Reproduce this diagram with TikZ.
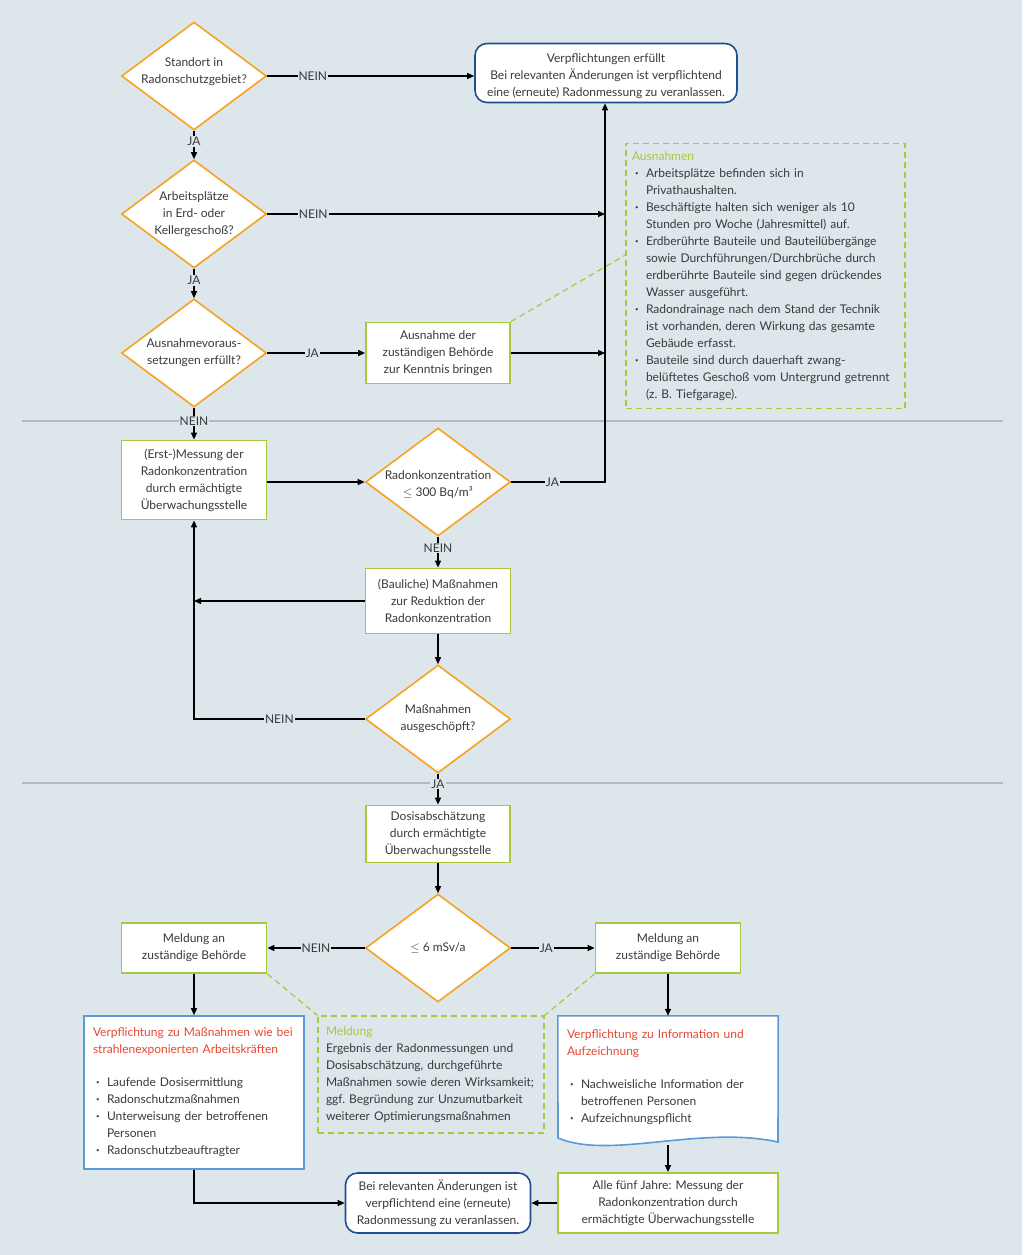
\documentclass[tikz,border=0pt]{standalone}
\usepackage{fontspec}
\setmainfont{Lato}
\usetikzlibrary{shapes.geometric,positioning,arrows.meta}

\definecolor{bg}{HTML}{DDE6EB}
\definecolor{sepgray}{HTML}{AEBBC3}
\definecolor{orng}{HTML}{F7A21E}
\definecolor{lime}{HTML}{A8C83F}
\definecolor{navy}{HTML}{1F4F8F}
\definecolor{sky}{HTML}{5B9BD5}
\definecolor{redt}{HTML}{EA4630}
\definecolor{txt}{HTML}{3A3A3A}

\newcommand{\bul}{\hspace*{3pt}\makebox[11pt][l]{\raisebox{2pt}{\fontsize{6}{6}\selectfont\textbullet}}}
\newcommand{\ind}{\hspace*{14pt}}

\tikzset{
  decision/.style={diamond, draw=orng, line width=1.6pt, fill=white, aspect=1.34,
    minimum width=145pt, minimum height=108pt, inner sep=-3pt, align=center},
  process/.style={rectangle, draw=lime, line width=1.8pt, fill=white, align=center},
  final/.style={rectangle, rounded corners=12pt, draw=navy, line width=1.6pt, fill=white, align=center},
  duty/.style={draw=sky, line width=1.6pt, fill=white},
  note/.style={draw=lime, line width=1.2pt, dash pattern=on 6pt off 4pt},
  lbl/.style={fill=bg, inner sep=1pt},
  link/.style={->, line width=1.3pt},
  sepline/.style={draw=sepgray, line width=1.8pt}
}

\begin{document}
\begin{tikzpicture}[x=1pt,y=-1pt,>={Triangle[length=7pt,width=6pt]},
    font=\fontsize{12}{17}\selectfont, text=txt]
  \useasboundingbox (0,0) rectangle (1026,1255);
  \fill[white] (0,0) rectangle (1026,1255);
  \fill[bg] (0,0) rectangle (1022,1255);
  \draw[sepline] (22,421) -- (1003,421);
  \draw[sepline] (22,783) -- (1003,783);

  % first section
  \node[decision] (q_site) at (194,76) {Standort in\\Radonschutzgebiet?\\[-6pt]};
  \node[decision] (q_floor) at (194,214) {Arbeitsplätze\\in Erd- oder\\Kellergeschoß?};
  \node[decision] (q_exc) at (194,353) {Ausnahmevoraus-\\setzungen erfüllt?};
  \node[final, minimum width=262pt, minimum height=59pt] (done) at (606,73)
    {\rule{0pt}{15pt}Verpflichtungen erfüllt\\Bei relevanten Änderungen ist verpflichtend\\eine (erneute) Radonmessung zu veranlassen.};
  \node[process, minimum width=144pt, minimum height=61pt] (notify) at (438,353)
    {Ausnahme der\\zuständigen Behörde\\zur Kenntnis bringen};
  \node[note, text width=267pt, inner xsep=6pt, inner ysep=8pt, align=left] (exc_note) at (765.5,276)
    {{\color{lime}Ausnahmen}\\
     \bul Arbeitsplätze befinden sich in\\
     \ind Privathaushalten.\\
     \bul Beschäftigte halten sich weniger als 10\\
     \ind Stunden pro Woche (Jahresmittel) auf.\\
     \bul Erdberührte Bauteile und Bauteilübergänge\\
     \ind sowie Durchführungen/Durchbrüche durch\\
     \ind erdberührte Bauteile sind gegen drückendes\\
     \ind Wasser ausgeführt.\\
     \bul Radondrainage nach dem Stand der Technik\\
     \ind ist vorhanden, deren Wirkung das gesamte\\
     \ind Gebäude erfasst.\\
     \bul Bauteile sind durch dauerhaft zwang-\\
     \ind belüftetes Geschoß vom Untergrund getrennt\\
     \ind (z.\ B.\ Tiefgarage).};
  \coordinate (j_floor) at (605,214);
  \coordinate (j_exc) at (605,353);
  \coordinate (j_conc) at (605,482);

  % second section
  \node[process, minimum width=145pt, minimum height=79pt] (measure) at (194,480)
    {(Erst-)Messung der\\Radonkonzentration\\durch ermächtigte\\Überwachungsstelle};
  \node[decision] (q_conc) at (438,482) {\\[-2pt]Radonkonzentration\\$\leq$ 300 Bq/m³};
  \node[process, minimum width=145pt, minimum height=65pt] (reduce) at (438,601)
    {(Bauliche) Maßnahmen\\zur Reduktion der\\Radonkonzentration};
  \node[decision] (q_done) at (438,719) {Maßnahmen\\ausgeschöpft?};

  % third section
  \node[process, minimum width=144pt, minimum height=57pt] (dose) at (438,834)
    {Dosisabschätzung\\durch ermächtigte\\Überwachungsstelle};
  \node[decision] (q_dose) at (438,948) {$\leq$ 6 mSv/a};
  \node[process, minimum width=145pt, minimum height=50pt] (report_l) at (194,948)
    {Meldung an\\zuständige Behörde};
  \node[process, minimum width=145pt, minimum height=50pt] (report_r) at (668,948)
    {Meldung an\\zuständige Behörde};
  \node[duty, text width=202pt, inner xsep=9pt, align=left, minimum height=153pt] (duty_l) at (194,1092.5)
    {{\color{redt}Verpflichtung zu Maßnahmen wie bei}\\
     {\color{redt}strahlenexponierten Arbeitskräften}\\[16pt]
     \bul Laufende Dosisermittlung\\
     \bul Radonschutzmaßnahmen\\
     \bul Unterweisung der betroffenen\\
     \ind Personen\\
     \bul Radonschutzbeauftragter};
  \node[note, text width=210pt, inner xsep=8pt, align=left, minimum height=117pt] (report) at (431,1074.5)
    {{\color{lime}Meldung}\\
     Ergebnis der Radonmessungen und\\
     Dosisabschätzung, durchgeführte\\
     Maßnahmen sowie deren Wirksamkeit;\\
     ggf.\ Begründung zur Unzumutbarkeit\\
     weiterer Optimierungsmaßnahmen};
  \node[text width=202pt, inner xsep=9pt, align=left, minimum height=116pt] (duty_r) at (668,1074)
    {};
  \draw[duty] (duty_r.north west) -- (duty_r.north east) -- (778,1142)
    .. controls (700,1125) and (610,1160) .. (558,1138) -- cycle;
  \node[text width=202pt, inner xsep=9pt, align=left] at (668,1077)
    {{\color{redt}Verpflichtung zu Information und}\\
     {\color{redt}Aufzeichnung}\\[16pt]
     \bul Nachweisliche Information der\\
     \ind betroffenen Personen\\
     \bul Aufzeichnungspflicht};
  \coordinate (duty_r_out) at (668,1145);
  \node[process, minimum width=220pt, minimum height=60pt] (cycle) at (668,1203)
    {Alle fünf Jahre: Messung der\\Radonkonzentration durch\\ermächtigte Überwachungsstelle};
  \node[final, minimum width=185pt, minimum height=60pt] (redo) at (438,1203)
    {Bei relevanten Änderungen ist\\verpflichtend eine (erneute)\\Radonmessung zu veranlassen.};

  % connectors
  \draw[link] (q_site.south) -- node[lbl, pos=0.38] {JA} (q_floor.north);
  \draw[link] (q_floor.south) -- node[lbl, pos=0.4] {JA} (q_exc.north);
  \draw[link] (q_exc.south) -- node[lbl, pos=0.41] {NEIN} (measure.north);
  \draw[link] (q_site.east) -- node[lbl, pos=0.22] {NEIN} (q_site.east -| done.west);
  \draw[link] (q_floor.east) -- node[lbl, pos=0.136] {NEIN} (j_floor);
  \draw[link] (q_exc.east) -- node[lbl, pos=0.46] {JA} (notify.west);
  \draw[link] (notify.east) -- (j_exc);
  \draw[note] (notify.north east) -- ([yshift=21pt]exc_note.west);
  \draw[link] (measure.east |- q_conc.west) -- (q_conc.west);
  \draw[link] (q_conc.east) -- node[lbl, pos=0.44] {JA} (j_conc) -- (j_conc |- done.south);
  \draw[link] (q_conc.south) -- node[lbl, pos=0.36] {NEIN} (reduce.north);
  \draw[link] (reduce.west) -- (reduce.west -| measure.south);
  \draw[link] (reduce.south) -- (q_done.north);
  \draw[link] (q_done.west) -- node[lbl, pos=0.5] {NEIN} (q_done.west -| measure.south) -- (measure.south);
  \draw[link] (q_done.south) -- node[lbl, pos=0.33] {JA} (dose.north);
  \draw[link] (dose.south) -- (q_dose.north);
  \draw[link] (q_dose.west) -- node[lbl, pos=0.5] {NEIN} (report_l.east);
  \draw[link] (q_dose.east) -- node[lbl, pos=0.42] {JA} (report_r.west);
  \draw[link] (report_l.south) -- (duty_l.north);
  \draw[link] (report_r.south) -- (duty_r.north);
  \draw[note] (report_l.south east) -- (report.north west);
  \draw[note] (report_r.south west) -- (report.north east);
  \draw[link] (duty_r_out) -- (cycle.north);
  \draw[link] (cycle.west) -- (redo.east);
  \draw[link] (duty_l.south) |- (redo.west);
\end{tikzpicture}
\end{document}
